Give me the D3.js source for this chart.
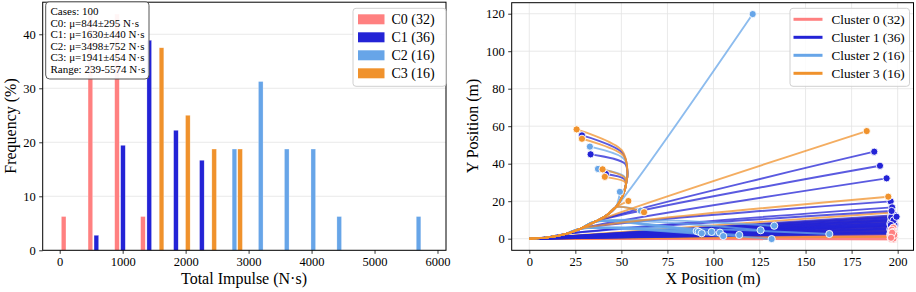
<!DOCTYPE html>
<html>
<head>
<meta charset="utf-8">
<script src="https://cdn.jsdelivr.net/npm/d3@7"></script>
<style>
  body { margin: 0; background: #fff; }
  svg { display: block; font-family: "Liberation Serif", "Times New Roman", serif; }
</style>
</head>
<body>
<div id="chart"></div>
<script>
// cluster info
const clusterNames = ['C0', 'C1', 'C2', 'C3'];
const clusterCounts = [32, 36, 16, 16];
const clusterColors = ['#ff8080', '#2323d6', '#67a5e8', '#f0922c'];

// histogram (bin centre in N·s, frequency in %)
const c0Centers = [63, 487, 910, 1322];
const c0Freq = [6.25, 43.75, 43.75, 6.25];
const c1Centers = [582, 1005, 1422, 1846, 2258];
const c1Freq = [2.78, 19.44, 38.89, 22.22, 16.67];
const c2Centers = [2775, 3193, 3606, 4027, 4439, 5699];
const c2Freq = [18.75, 31.25, 18.75, 18.75, 6.25, 6.25];
const c3Centers = [1617, 2035, 2453, 2865];
const c3Freq = [37.5, 25, 18.75, 18.75];

const impulseTicks = [0, 1000, 2000, 3000, 4000, 5000, 6000];
const freqTicks = [0, 10, 20, 30, 40];
const statsLines = [
  'Cases: 100',
  'C0: \u03bc=844\u00b1295 N\u00b7s',
  'C1: \u03bc=1630\u00b1440 N\u00b7s',
  'C2: \u03bc=3498\u00b1752 N\u00b7s',
  'C3: \u03bc=1941\u00b1454 N\u00b7s',
  'Range: 239-5574 N\u00b7s'
];

// trajectories: shared launch arc, then rows [arcIndex, endX, endY, bendX?, bendY?]
const launchArc = [[0, 0], [10, 0.7], [20, 2.6], [28, 5.4], [36, 9.2], [42, 12.5],
  [47, 16.8], [50.5, 22.5], [52.5, 29], [53.3, 35], [53, 40]];

const traj0 = [
  [0, 197.2, 5.2], [0, 197.6, 5.9], [0, 196.5, 4.5], [0, 198, 3.8], [0, 196.8, 3.4], [0, 197.5, 4.1],
  [0, 196.3, 2.6], [0, 198.2, 3.1], [0, 197.6, 2.9], [0, 196.6, 2.2], [0, 197.2, 1.8], [0, 198, 1.5],
  [0, 196.4, 1.2], [0, 197.4, 0.9], [0, 196.9, 0.6], [0, 198.1, 0.4], [0, 196.2, 0.2], [0, 197.3, 0],
  [0, 196.7, -0.2], [0, 197.8, -0.4], [0, 196.5, 2.4], [0, 197.9, 1.1], [0, 196.9, 4.8], [0, 197.4, 3.6],
  [0, 198.3, 0.7], [0, 196.1, 1.6], [0, 197.1, 2.7], [0, 197.7, 0.1], [0, 196.6, 1.3], [0, 198.2, 2],
  [0, 197, 3.2], [0, 196.4, 0.5]
];
const traj1 = [
  [9, 28.6, 55.1, 50.6, 45.8], [9, 33.3, 45, 51.8, 40.2], [8, 41.6, 34.5, 51.6, 31.8],
  [4, 187.3, 46.4], [4, 190.4, 38.9], [3, 194, 32.2], [3, 196.2, 19.9], [2, 197, 16.7], [2, 196.7, 14.8],
  [1, 199.4, 11.7],
  [0, 198.5, 12.5], [0, 197.5, 11], [0, 198, 10.5], [0, 197, 10], [0, 196.5, 9.5], [0, 198, 9],
  [0, 197, 8.5], [0, 196, 8], [0, 198.5, 7.5], [0, 197, 7], [0, 196.5, 6.5], [0, 198, 6],
  [0, 197.5, 5.5], [0, 196, 5], [0, 197, 4.5], [0, 198, 4], [0, 196.5, 3.5], [0, 197.5, 3],
  [0, 196, 2.5], [0, 198, 8.2], [0, 197, 6.8], [0, 196.5, 11.5], [0, 197.8, 9.8], [0, 196.3, 7.3],
  [0, 197.2, 5.2], [0, 198.3, 3.3]
];
const traj2 = [
  [6, 121.3, 119.8], [6, 49.2, 25], [6, 60.5, 14.9], [9, 32.9, 49.1, 51.4, 42.6], [8, 37.3, 37.2, 51.5, 33.2],
  [4, 90.9, 4.1], [4, 92, 3.7], [4, 93.6, 2.9], [4, 99, 3.6], [3, 103.5, 3.2], [3, 105.3, 1.4],
  [3, 114, 2], [4, 125.6, 4.5], [4, 133, 6.9], [3, 131.6, -0.2], [3, 162.9, 2.5]
];
const traj3 = [
  [9, 25.7, 58.3, 50.2, 47.2], [9, 28.6, 53.3, 51.2, 44.2], [8, 39.8, 37, 51.8, 32.6], [8, 41, 33, 51.4, 30.6],
  [6, 53.8, 20.1], [6, 62.3, 14.1], [4, 183.2, 57.4], [3, 194.9, 22.4],
  [0, 197, 14], [0, 196.5, 12], [0, 197.5, 9], [0, 198, 6.5], [0, 197, 4], [0, 198, 2.5],
  [0, 196.5, 1], [0, 197.5, 10.5]
];
const xPosTicks = [0, 25, 50, 75, 100, 125, 150, 175, 200];
const yPosTicks = [0, 20, 40, 60, 80, 100, 120];
const trajLegend = ['Cluster 0 (32)', 'Cluster 1 (36)', 'Cluster 2 (16)', 'Cluster 3 (16)'];

const W = 916, H = 292;
const svg = d3.select('#chart').append('svg').attr('width', W).attr('height', H);

// ---------- left: impulse histogram ----------
const xL = d3.scaleLinear().domain([-270, 6135]).range([42.7, 446]);
const yL = d3.scaleLinear().domain([0, 45.94]).range([250.3, 2.2]);
const left = svg.append('g');

left.append('g').selectAll('line').data(freqTicks).join('line')
  .attr('x1', xL.range()[0]).attr('x2', xL.range()[1])
  .attr('y1', d => yL(d)).attr('y2', d => yL(d))
  .attr('stroke', '#e3e3e3').attr('stroke-width', 0.8);

const barSets = [[c0Centers, c0Freq], [c1Centers, c1Freq], [c2Centers, c2Freq], [c3Centers, c3Freq]];
const barW = 4.6;
barSets.forEach(([cs, fs], ci) => {
  left.append('g').selectAll('rect').data(cs.map((c, i) => [c, fs[i]])).join('rect')
    .attr('x', d => xL(d[0]) - barW / 2)
    .attr('y', d => yL(d[1]))
    .attr('width', barW)
    .attr('height', d => yL(0) - yL(d[1]))
    .attr('fill', clusterColors[ci])
    .attr('stroke', '#fff').attr('stroke-opacity', 0.5).attr('stroke-width', 0.5);
});

left.append('g').attr('transform', `translate(0,${yL.range()[0]})`)
  .call(d3.axisBottom(xL).tickValues(impulseTicks).tickSize(3.5).tickPadding(3.5).tickFormat(d3.format('d')))
  .call(g => g.select('.domain').remove());
left.append('g').attr('transform', `translate(${xL.range()[0]},0)`)
  .call(d3.axisLeft(yL).tickValues(freqTicks).tickSize(3.5).tickPadding(3.5))
  .call(g => g.select('.domain').remove());

left.append('rect')
  .attr('x', xL.range()[0]).attr('y', yL.range()[1])
  .attr('width', xL.range()[1] - xL.range()[0]).attr('height', yL.range()[0] - yL.range()[1])
  .attr('fill', 'none').attr('stroke', '#000').attr('stroke-width', 1);

left.append('text').attr('x', 244).attr('y', 284).attr('text-anchor', 'middle')
  .attr('font-size', 16).text('Total Impulse (N\u00b7s)');
left.append('text').attr('transform', 'translate(15.5,126) rotate(-90)').attr('text-anchor', 'middle')
  .attr('font-size', 16).text('Frequency (%)');

// stats box
left.append('rect').attr('x', 45.7).attr('y', 1.8).attr('width', 103.3).attr('height', 77.2)
  .attr('rx', 4).attr('fill', '#fff').attr('fill-opacity', 0.92)
  .attr('stroke', '#555').attr('stroke-width', 1);
left.append('g').selectAll('text').data(statsLines).join('text')
  .attr('x', 50.5).attr('y', (d, i) => 15 + i * 11.5)
  .attr('font-size', 11).text(d => d);

// legend
const legL = left.append('g');
legL.append('rect').attr('x', 353).attr('y', 8.3).attr('width', 93).attr('height', 78)
  .attr('rx', 3).attr('fill', '#fff').attr('fill-opacity', 0.85).attr('stroke', '#d0d0d0');
clusterNames.forEach((n, i) => {
  const yy = 19.3 + i * 18;
  legL.append('rect').attr('x', 358).attr('y', yy - 5).attr('width', 26.5).attr('height', 10)
    .attr('fill', clusterColors[i]);
  legL.append('text').attr('x', 391.5).attr('y', yy + 4.8).attr('font-size', 14)
    .text(`${n} (${clusterCounts[i]})`);
});

// ---------- right: trajectories ----------
const xR = d3.scaleLinear().domain([-9.55, 208.6]).range([511.7, 913.5]);
const yR = d3.scaleLinear().domain([-6.19, 125.87]).range([250.3, 2.7]);
const right = svg.append('g');

right.append('g').selectAll('line').data(xPosTicks).join('line')
  .attr('x1', d => xR(d)).attr('x2', d => xR(d))
  .attr('y1', yR.range()[0]).attr('y2', yR.range()[1])
  .attr('stroke', '#e3e3e3').attr('stroke-width', 0.8);
right.append('g').selectAll('line').data(yPosTicks).join('line')
  .attr('x1', xR.range()[0]).attr('x2', xR.range()[1])
  .attr('y1', d => yR(d)).attr('y2', d => yR(d))
  .attr('stroke', '#e3e3e3').attr('stroke-width', 0.8);

const trajSets = [traj0, traj1, traj2, traj3];
const line = d3.line().x(d => xR(d[0])).y(d => yR(d[1])).curve(d3.curveCatmullRom.alpha(0.5));

function trajPoints(row) {
  const pts = launchArc.slice(0, row[0] + 1);
  if (row.length > 3) pts.push([row[3], row[4]]);
  pts.push([row[1], row[2]]);
  return pts;
}

// straight launches first, then the ones that follow the arc
const lineLayers = [];
[0, 3, 1, 2].forEach(ci => lineLayers.push({ ci, rows: trajSets[ci].filter(r => r[0] === 0) }));
[1, 0, 2, 3].forEach(ci => lineLayers.push({ ci, rows: trajSets[ci].filter(r => r[0] > 0) }));
const dotLayers = [];
[3, 1, 0, 2].forEach(ci => dotLayers.push({ ci, rows: trajSets[ci].filter(r => r[0] === 0) }));
[1, 0, 2, 3].forEach(ci => dotLayers.push({ ci, rows: trajSets[ci].filter(r => r[0] > 0) }));

const plot = right.append('g');
lineLayers.forEach(({ ci, rows }) => {
  plot.append('g').selectAll('path').data(rows).join('path')
    .attr('d', d => line(trajPoints(d)))
    .attr('fill', 'none')
    .attr('stroke', clusterColors[ci])
    .attr('stroke-width', 1.9)
    .attr('stroke-opacity', 0.75);
});
dotLayers.forEach(({ ci, rows }) => {
  plot.append('g').selectAll('circle').data(rows).join('circle')
    .attr('cx', d => xR(d[1])).attr('cy', d => yR(d[2])).attr('r', 3.6)
    .attr('fill', clusterColors[ci])
    .attr('stroke', '#fff').attr('stroke-width', 0.9);
});

right.append('g').attr('transform', `translate(0,${yR.range()[0]})`)
  .call(d3.axisBottom(xR).tickValues(xPosTicks).tickSize(3.5).tickPadding(3.5))
  .call(g => g.select('.domain').remove());
right.append('g').attr('transform', `translate(${xR.range()[0]},0)`)
  .call(d3.axisLeft(yR).tickValues(yPosTicks).tickSize(3.5).tickPadding(3.5))
  .call(g => g.select('.domain').remove());

right.append('rect')
  .attr('x', xR.range()[0]).attr('y', yR.range()[1])
  .attr('width', xR.range()[1] - xR.range()[0]).attr('height', yR.range()[0] - yR.range()[1])
  .attr('fill', 'none').attr('stroke', '#000').attr('stroke-width', 1);

right.append('text').attr('x', 713).attr('y', 284).attr('text-anchor', 'middle')
  .attr('font-size', 16).text('X Position (m)');
right.append('text').attr('transform', 'translate(478,126) rotate(-90)').attr('text-anchor', 'middle')
  .attr('font-size', 16).text('Y Position (m)');

const legR = right.append('g');
legR.append('rect').attr('x', 790).attr('y', 8.3).attr('width', 119.5).attr('height', 78)
  .attr('rx', 3).attr('fill', '#fff').attr('fill-opacity', 0.85).attr('stroke', '#d0d0d0');
trajLegend.forEach((t, i) => {
  const yy = 19.3 + i * 18;
  legR.append('line').attr('x1', 793.5).attr('x2', 822.5).attr('y1', yy).attr('y2', yy)
    .attr('stroke', clusterColors[i]).attr('stroke-width', 3);
  legR.append('text').attr('x', 831.5).attr('y', yy + 4.6).attr('font-size', 13.2).text(t);
});

svg.selectAll('.tick text').attr('font-size', 12.5).attr('font-family', '"Liberation Serif", serif').attr('fill', '#000');
svg.selectAll('.tick line').attr('stroke', '#000').attr('stroke-width', 0.8);
</script>
</body>
</html>
